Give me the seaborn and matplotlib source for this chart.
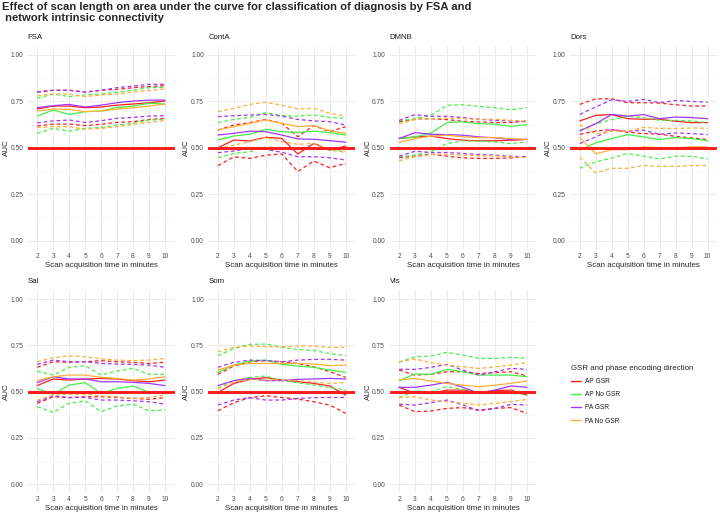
import numpy as np
import pandas as pd
import matplotlib
matplotlib.use("Agg")
import matplotlib.pyplot as plt
from matplotlib.ticker import MultipleLocator
from matplotlib.lines import Line2D
import seaborn as sns

sns.set_style("white")
plt.rcParams["font.family"] = ["Liberation Sans", "DejaVu Sans"]

times = [2, 3, 4, 5, 6, 7, 8, 9, 10]
groups = ["AP GSR", "AP No GSR", "PA GSR", "PA No GSR"]
networks = ["FSA", "ContA", "DMNB", "Dors", "Sal", "Som", "Vis"]
palette = {"AP GSR": "#FF1F1F", "AP No GSR": "#45F045",
           "PA GSR": "#A236F5", "PA No GSR": "#FFAE38"}

# ---- FSA ----
fsa_mean = {"AP GSR": [0.709, 0.725, 0.725, 0.716, 0.72, 0.73, 0.736, 0.743, 0.752],
            "AP No GSR": [0.671, 0.704, 0.68, 0.695, 0.698, 0.718, 0.725, 0.74, 0.736],
            "PA GSR": [0.716, 0.727, 0.734, 0.72, 0.73, 0.743, 0.752, 0.757, 0.757],
            "PA No GSR": [0.698, 0.709, 0.707, 0.695, 0.698, 0.709, 0.716, 0.725, 0.736]}
fsa_upper = {"AP GSR": [0.80, 0.81, 0.81, 0.80, 0.81, 0.815, 0.824, 0.83, 0.835],
             "AP No GSR": [0.767, 0.79, 0.776, 0.785, 0.79, 0.80, 0.81, 0.824, 0.826],
             "PA GSR": [0.802, 0.81, 0.81, 0.80, 0.81, 0.824, 0.833, 0.842, 0.842],
             "PA No GSR": [0.78, 0.79, 0.79, 0.776, 0.785, 0.79, 0.80, 0.81, 0.817]}
fsa_lower = {"AP GSR": [0.618, 0.628, 0.628, 0.62, 0.627, 0.637, 0.641, 0.653, 0.659],
             "AP No GSR": [0.578, 0.605, 0.59, 0.605, 0.61, 0.623, 0.632, 0.65, 0.653],
             "PA GSR": [0.634, 0.645, 0.65, 0.637, 0.646, 0.659, 0.664, 0.671, 0.673],
             "PA No GSR": [0.609, 0.614, 0.614, 0.60, 0.605, 0.614, 0.627, 0.637, 0.646]}

# ---- ContA ----
conta_mean = {"AP GSR": [0.50, 0.542, 0.537, 0.557, 0.551, 0.467, 0.524, 0.488, 0.51],
              "AP No GSR": [0.542, 0.564, 0.573, 0.60, 0.587, 0.583, 0.59, 0.582, 0.569],
              "PA GSR": [0.569, 0.578, 0.59, 0.587, 0.569, 0.548, 0.546, 0.539, 0.53],
              "PA No GSR": [0.596, 0.614, 0.632, 0.65, 0.632, 0.614, 0.62, 0.592, 0.578]}
conta_upper = {"AP GSR": [0.596, 0.623, 0.636, 0.653, 0.632, 0.56, 0.62, 0.587, 0.614],
               "AP No GSR": [0.636, 0.653, 0.664, 0.69, 0.673, 0.671, 0.677, 0.664, 0.659],
               "PA GSR": [0.668, 0.673, 0.677, 0.68, 0.671, 0.653, 0.645, 0.641, 0.623],
               "PA No GSR": [0.695, 0.713, 0.734, 0.745, 0.73, 0.709, 0.713, 0.686, 0.671]}
conta_lower = {"AP GSR": [0.404, 0.452, 0.443, 0.461, 0.467, 0.372, 0.429, 0.393, 0.417],
               "AP No GSR": [0.447, 0.47, 0.479, 0.506, 0.497, 0.494, 0.50, 0.488, 0.476],
               "PA GSR": [0.474, 0.483, 0.497, 0.492, 0.476, 0.452, 0.452, 0.447, 0.434],
               "PA No GSR": [0.494, 0.515, 0.533, 0.557, 0.533, 0.519, 0.524, 0.492, 0.479]}

# ---- DMNB ----
dmnb_mean = {"AP GSR": [0.55, 0.559, 0.563, 0.55, 0.541, 0.538, 0.538, 0.541, 0.545],
             "AP No GSR": [0.55, 0.559, 0.58, 0.636, 0.64, 0.63, 0.627, 0.616, 0.625],
             "PA GSR": [0.55, 0.582, 0.573, 0.571, 0.568, 0.559, 0.554, 0.545, 0.546],
             "PA No GSR": [0.529, 0.55, 0.563, 0.568, 0.559, 0.555, 0.555, 0.55, 0.545]}
dmnb_upper = {"AP GSR": [0.64, 0.654, 0.657, 0.652, 0.643, 0.64, 0.636, 0.636, 0.645],
              "AP No GSR": [0.645, 0.657, 0.675, 0.729, 0.732, 0.723, 0.716, 0.705, 0.716],
              "PA GSR": [0.648, 0.679, 0.67, 0.67, 0.663, 0.654, 0.648, 0.645, 0.64],
              "PA No GSR": [0.63, 0.652, 0.657, 0.66, 0.657, 0.654, 0.654, 0.648, 0.643]}
dmnb_lower = {"AP GSR": [0.446, 0.457, 0.466, 0.455, 0.446, 0.443, 0.443, 0.446, 0.452],
              "AP No GSR": [0.452, 0.461, 0.479, 0.523, 0.538, 0.536, 0.532, 0.523, 0.532],
              "PA GSR": [0.455, 0.482, 0.475, 0.475, 0.47, 0.464, 0.461, 0.455, 0.452],
              "PA No GSR": [0.43, 0.452, 0.464, 0.466, 0.461, 0.457, 0.457, 0.452, 0.448]}

# ---- Dors ----
dors_mean = {"AP GSR": [0.645, 0.675, 0.679, 0.657, 0.654, 0.654, 0.643, 0.636, 0.636],
             "AP No GSR": [0.488, 0.527, 0.55, 0.571, 0.559, 0.545, 0.555, 0.55, 0.538],
             "PA GSR": [0.591, 0.63, 0.68, 0.671, 0.679, 0.657, 0.666, 0.663, 0.657],
             "PA No GSR": [0.555, 0.468, 0.49, 0.49, 0.505, 0.50, 0.50, 0.505, 0.505]}
dors_upper = {"AP GSR": [0.734, 0.764, 0.764, 0.743, 0.743, 0.741, 0.732, 0.725, 0.725],
              "AP No GSR": [0.595, 0.63, 0.652, 0.67, 0.663, 0.648, 0.648, 0.645, 0.636],
              "PA GSR": [0.68, 0.72, 0.759, 0.75, 0.761, 0.743, 0.755, 0.75, 0.746],
              "PA No GSR": [0.625, 0.575, 0.59, 0.59, 0.61, 0.605, 0.605, 0.607, 0.605]}
dors_lower = {"AP GSR": [0.573, 0.59, 0.598, 0.584, 0.577, 0.573, 0.562, 0.554, 0.545],
              "AP No GSR": [0.39, 0.425, 0.445, 0.47, 0.455, 0.44, 0.455, 0.455, 0.44],
              "PA GSR": [0.523, 0.559, 0.598, 0.589, 0.595, 0.573, 0.58, 0.577, 0.571],
              "PA No GSR": [0.45, 0.365, 0.39, 0.39, 0.405, 0.40, 0.40, 0.405, 0.405]}

# ---- Sal ----
sal_mean = {"AP GSR": [0.532, 0.568, 0.562, 0.568, 0.571, 0.568, 0.559, 0.553, 0.562],
            "AP No GSR": [0.517, 0.485, 0.535, 0.548, 0.49, 0.517, 0.53, 0.496, 0.496],
            "PA GSR": [0.548, 0.58, 0.568, 0.568, 0.553, 0.553, 0.55, 0.544, 0.532],
            "PA No GSR": [0.559, 0.58, 0.589, 0.589, 0.577, 0.571, 0.562, 0.568, 0.58]}
sal_upper = {"AP GSR": [0.631, 0.661, 0.658, 0.661, 0.667, 0.661, 0.658, 0.652, 0.658],
             "AP No GSR": [0.611, 0.589, 0.631, 0.64, 0.589, 0.611, 0.625, 0.593, 0.593],
             "PA GSR": [0.647, 0.67, 0.661, 0.661, 0.652, 0.649, 0.647, 0.643, 0.631],
             "PA No GSR": [0.661, 0.683, 0.692, 0.688, 0.676, 0.67, 0.667, 0.67, 0.679]}
sal_lower = {"AP GSR": [0.436, 0.472, 0.467, 0.472, 0.472, 0.468, 0.463, 0.458, 0.467],
             "AP No GSR": [0.418, 0.387, 0.436, 0.45, 0.391, 0.422, 0.432, 0.396, 0.40],
             "PA GSR": [0.445, 0.476, 0.468, 0.468, 0.454, 0.454, 0.45, 0.445, 0.432],
             "PA No GSR": [0.454, 0.481, 0.486, 0.486, 0.476, 0.472, 0.463, 0.468, 0.481]}

# ---- Som ----
som_mean = {"AP GSR": [0.495, 0.544, 0.566, 0.575, 0.562, 0.553, 0.544, 0.53, 0.481],
            "AP No GSR": [0.604, 0.643, 0.665, 0.67, 0.647, 0.638, 0.631, 0.616, 0.604],
            "PA GSR": [0.532, 0.559, 0.571, 0.559, 0.559, 0.566, 0.568, 0.571, 0.568],
            "PA No GSR": [0.616, 0.643, 0.652, 0.652, 0.652, 0.652, 0.649, 0.64, 0.643]}
som_upper = {"AP GSR": [0.593, 0.638, 0.661, 0.667, 0.661, 0.652, 0.634, 0.607, 0.577],
             "AP No GSR": [0.694, 0.733, 0.755, 0.757, 0.739, 0.728, 0.721, 0.706, 0.694],
             "PA GSR": [0.631, 0.658, 0.67, 0.667, 0.661, 0.67, 0.674, 0.674, 0.67],
             "PA No GSR": [0.715, 0.739, 0.746, 0.742, 0.742, 0.746, 0.746, 0.739, 0.739]}
som_lower = {"AP GSR": [0.396, 0.44, 0.467, 0.477, 0.468, 0.459, 0.445, 0.427, 0.382],
             "AP No GSR": [0.517, 0.559, 0.577, 0.584, 0.559, 0.548, 0.535, 0.521, 0.508],
             "PA GSR": [0.427, 0.454, 0.467, 0.454, 0.454, 0.463, 0.467, 0.468, 0.468],
             "PA No GSR": [0.517, 0.553, 0.566, 0.562, 0.562, 0.559, 0.553, 0.544, 0.548]}

# ---- Vis ----
vis_mean = {"AP GSR": [0.523, 0.49, 0.49, 0.508, 0.508, 0.496, 0.505, 0.508, 0.481],
            "AP No GSR": [0.559, 0.595, 0.593, 0.62, 0.607, 0.589, 0.589, 0.589, 0.58],
            "PA GSR": [0.523, 0.523, 0.535, 0.55, 0.523, 0.49, 0.508, 0.53, 0.523],
            "PA No GSR": [0.562, 0.571, 0.557, 0.544, 0.535, 0.526, 0.535, 0.544, 0.557]}
vis_upper = {"AP GSR": [0.616, 0.589, 0.593, 0.607, 0.607, 0.598, 0.602, 0.607, 0.584],
             "AP No GSR": [0.658, 0.688, 0.692, 0.712, 0.697, 0.679, 0.679, 0.685, 0.679],
             "PA GSR": [0.62, 0.62, 0.631, 0.647, 0.616, 0.589, 0.607, 0.625, 0.62],
             "PA No GSR": [0.661, 0.676, 0.656, 0.643, 0.634, 0.625, 0.634, 0.643, 0.656]}
vis_lower = {"AP GSR": [0.427, 0.391, 0.395, 0.409, 0.413, 0.40, 0.409, 0.413, 0.382],
             "AP No GSR": [0.467, 0.503, 0.499, 0.526, 0.512, 0.49, 0.49, 0.49, 0.485],
             "PA GSR": [0.432, 0.427, 0.44, 0.454, 0.427, 0.396, 0.409, 0.431, 0.427],
             "PA No GSR": [0.468, 0.472, 0.454, 0.445, 0.436, 0.427, 0.436, 0.445, 0.458]}

net_data = {
    "FSA": (fsa_mean, fsa_lower, fsa_upper),
    "ContA": (conta_mean, conta_lower, conta_upper),
    "DMNB": (dmnb_mean, dmnb_lower, dmnb_upper),
    "Dors": (dors_mean, dors_lower, dors_upper),
    "Sal": (sal_mean, sal_lower, sal_upper),
    "Som": (som_mean, som_lower, som_upper),
    "Vis": (vis_mean, vis_lower, vis_upper),
}

records = []
for net in networks:
    m, lo, hi = net_data[net]
    for stat, d in (("lower", lo), ("upper", hi), ("mean", m)):
        for g in groups:
            for t, v in zip(times, d[g]):
                records.append({"network": net, "group": g, "stat": stat,
                                "time": t, "auc": v})
df = pd.DataFrame(records)

W, H = 720, 514
fig = plt.figure(figsize=(W / 100, H / 100), dpi=100)

col_left = [27.6, 208.3, 389.5, 570.2]
pw = 147.0
rows_px = [(45.7, 250.0), (289.8, 493.3)]

tick_fs = 4.8
lab_fs = 5.7
strip_fs = 5.6

for i, net in enumerate(networks):
    r, c = divmod(i, 4)
    top, bot = rows_px[r]
    ax = fig.add_axes([col_left[c] / W, 1 - bot / H, pw / W, (bot - top) / H])
    sub = df[df["network"] == net]
    sns.lineplot(data=sub, x="time", y="auc", hue="group", style="stat",
                 hue_order=groups, palette=palette,
                 dashes={"mean": "", "lower": (3, 2.2), "upper": (3, 2.2)},
                 estimator=None, lw=0.9, legend=False, ax=ax, zorder=3)
    ax.axhline(0.5, color="#FF1A1A", lw=2.1, zorder=5)
    ax.set_xlim(1.4, 10.6)
    ax.set_ylim(-0.05, 1.05)
    ax.set_xticks(times)
    ax.set_yticks([0, 0.25, 0.5, 0.75, 1.0])
    ax.set_yticklabels(["0.00", "0.25", "0.50", "0.75", "1.00"])
    ax.yaxis.set_minor_locator(MultipleLocator(0.125))
    ax.grid(which="major", color="#EBEBEB", lw=0.7, zorder=0)
    ax.grid(which="minor", axis="y", color="#F3F3F3", lw=0.4, zorder=0)
    ax.set_axisbelow(True)
    for s in ax.spines.values():
        s.set_visible(False)
    ax.tick_params(axis="both", which="both", length=0, labelsize=tick_fs,
                   labelcolor="#4D4D4D")
    ax.tick_params(axis="x", pad=2.2)
    ax.tick_params(axis="y", pad=3.2)
    ax.set_xlabel("Scan acquisition time in minutes", fontsize=lab_fs, labelpad=1.5)
    ax.set_ylabel("AUC", fontsize=lab_fs, labelpad=0.5)
    ax.set_title(net, loc="left", fontsize=strip_fs, color="#1A1A1A", pad=5)

fig.text(2.5 / W, 1 - 2.5 / H,
         "Effect of scan length on area under the curve for classification of diagnosis by FSA and\n network intrinsic connectivity",
         fontsize=8.1, fontweight="bold", ha="left", va="top", linespacing=1.1)

handles = [Line2D([], [], color=palette[g], lw=1.0) for g in groups]
leg = fig.legend(handles, groups, loc="upper left",
                 bbox_to_anchor=(566 / W, 1 - 360 / H),
                 frameon=False, fontsize=4.75, title="GSR and phase encoding direction",
                 title_fontsize=5.7, handlelength=1.5, handletextpad=0.7,
                 labelspacing=0.95, borderpad=0.2, alignment="left")
for t in leg.get_texts():
    t.set_color("#1A1A1A")

fig.savefig("out.png", dpi=100)
